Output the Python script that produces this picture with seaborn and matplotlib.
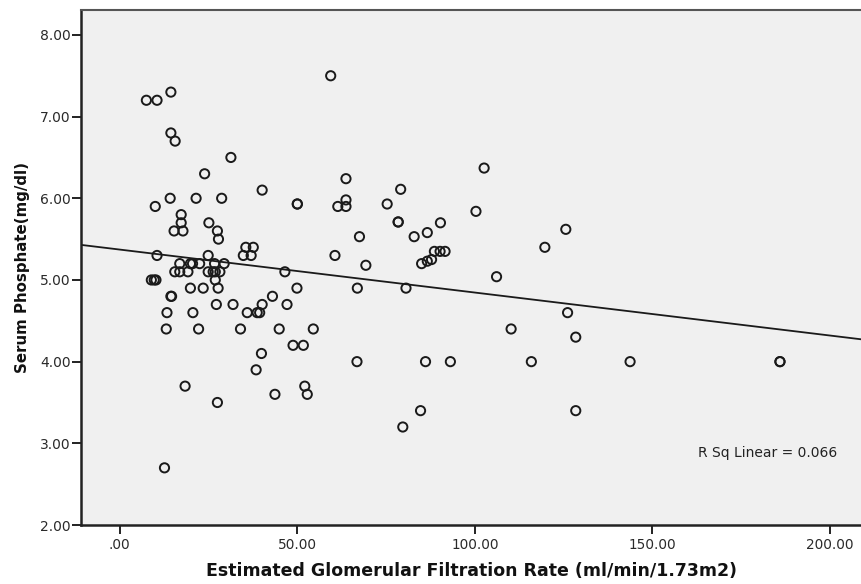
import numpy as np
import pandas as pd
import matplotlib
matplotlib.use("Agg")
import matplotlib.pyplot as plt
import seaborn as sns

# eGFR (ml/min/1.73m2) and serum phosphate (mg/dl)
egfr = [
    7.5, 10.5, 14.4, 14.4, 15.6, 31.3, 23.9, 40.1, 10.0, 14.2, 21.5, 28.7,
    50.0, 50.0, 17.3, 17.3, 15.3, 17.8, 25.1, 27.5, 27.8, 10.5, 24.9, 34.8,
    37.0, 35.5, 37.6, 46.5, 16.9, 19.9, 20.5, 22.5, 26.7, 29.4,
    15.5, 16.9, 19.2, 24.9, 26.3, 26.9, 28.2, 8.9, 9.7, 10.2, 26.9,
    19.9, 23.5, 27.7, 49.9,
    14.4, 14.6, 43.0, 13.3, 20.6, 35.9, 38.7, 39.4, 27.2, 31.9, 40.1, 47.1,
    13.1, 22.2, 34.0, 44.9, 48.8, 51.7, 39.9, 38.4, 18.4, 52.1, 43.7, 52.8,
    27.5, 12.6,
    59.4, 102.6, 63.7, 79.1, 63.7, 61.4, 63.7, 75.3, 100.3, 78.4, 78.4, 90.3,
    86.6, 82.9, 67.5, 60.6, 69.3, 88.6, 90.2, 91.6, 85.0, 86.6, 87.8, 106.1,
    119.7, 66.9, 80.6, 125.6,
    54.5, 110.2, 66.8, 86.1, 93.1, 115.9, 84.7, 79.7,
    126.1, 128.4, 143.7, 185.9, 185.9, 128.4,
]
phosphate = [
    7.20, 7.20, 7.30, 6.80, 6.70, 6.50, 6.30, 6.10, 5.90, 6.00, 6.00, 6.00,
    5.93, 5.93, 5.80, 5.70, 5.60, 5.60, 5.70, 5.60, 5.50, 5.30, 5.30, 5.30,
    5.30, 5.40, 5.40, 5.10, 5.20, 5.20, 5.20, 5.20, 5.20, 5.20,
    5.10, 5.10, 5.10, 5.10, 5.10, 5.10, 5.10, 5.00, 5.00, 5.00, 5.00,
    4.90, 4.90, 4.90, 4.90,
    4.80, 4.80, 4.80, 4.60, 4.60, 4.60, 4.60, 4.60, 4.70, 4.70, 4.70, 4.70,
    4.40, 4.40, 4.40, 4.40, 4.20, 4.20, 4.10, 3.90, 3.70, 3.70, 3.60, 3.60,
    3.50, 2.70,
    7.50, 6.37, 6.24, 6.11, 5.98, 5.90, 5.90, 5.93, 5.84, 5.71, 5.71, 5.70,
    5.58, 5.53, 5.53, 5.30, 5.18, 5.35, 5.35, 5.35, 5.20, 5.23, 5.25, 5.04,
    5.40, 4.90, 4.90, 5.62,
    4.40, 4.40, 4.00, 4.00, 4.00, 4.00, 3.40, 3.20,
    4.60, 4.30, 4.00, 4.00, 4.00, 3.40,
]
x_ticks = [0, 50, 100, 150, 200]
x_tick_labels = [".00", "50.00", "100.00", "150.00", "200.00"]
y_ticks = [2, 3, 4, 5, 6, 7, 8]
y_tick_labels = ["2.00", "3.00", "4.00", "5.00", "6.00", "7.00", "8.00"]
x_label = "Estimated Glomerular Filtration Rate (ml/min/1.73m2)"
y_label = "Serum Phosphate(mg/dl)"
r2_text = "R Sq Linear = 0.066"

df = pd.DataFrame({"egfr": egfr, "phosphate": phosphate})

sns.set_style("white")
plt.rcParams["font.family"] = ["DejaVu Sans"]

fig = plt.figure(figsize=(8.62, 5.84), dpi=100)
ax = fig.add_axes([0.094, 0.101, 0.906, 0.882])
ax.set_facecolor("#f0f0f0")
ax.set_xlim(-10.9, 209.0)
ax.set_ylim(2.0, 8.306)

sns.scatterplot(data=df, x="egfr", y="phosphate", ax=ax, marker="o",
                facecolor="none", edgecolor="#1a1a1a", linewidth=1.4, s=44,
                zorder=3)
sns.regplot(data=df, x="egfr", y="phosphate", ax=ax, scatter=False,
            truncate=False, ci=None, color="#1a1a1a",
            line_kws={"linewidth": 1.3, "zorder": 2})
ax.set_xlim(-10.9, 209.0)
ax.set_ylim(2.0, 8.306)

ax.set_xticks(x_ticks)
ax.set_xticklabels(x_tick_labels)
ax.set_yticks(y_ticks)
ax.set_yticklabels(y_tick_labels)
ax.tick_params(axis="both", direction="out", length=6.3, width=1.4,
               color="#222222", labelcolor="#2a2a2a",
               bottom=True, left=True)
ax.tick_params(axis="x", labelsize=9.8, pad=3)
ax.tick_params(axis="y", labelsize=10, pad=1)

for side in ["left", "bottom"]:
    ax.spines[side].set_color("#222222")
    ax.spines[side].set_linewidth(1.8)
ax.spines["top"].set_color("#555555")
ax.spines["top"].set_linewidth(1.5)
ax.spines["right"].set_visible(False)

ax.set_xlabel(x_label, fontsize=12.5, fontweight="bold", labelpad=7,
              color="#111111")
ax.set_ylabel(y_label, fontsize=10.8, fontweight="bold", labelpad=7,
              color="#111111")

ax.text(0.879, 0.140, r2_text, transform=ax.transAxes, fontsize=10,
        ha="center", va="center", color="#222222")

fig.savefig("out.png", dpi=100)
